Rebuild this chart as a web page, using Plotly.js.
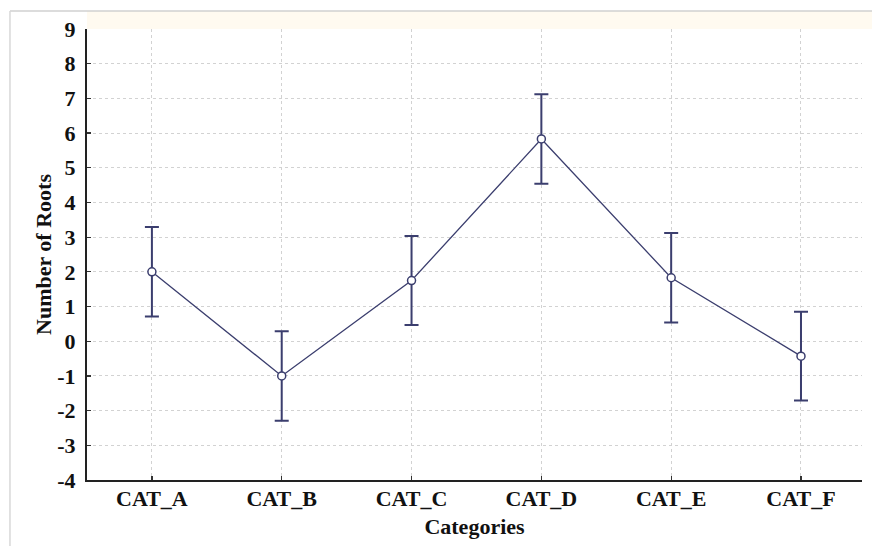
<!DOCTYPE html>
<html><head><meta charset="utf-8">
<script src="https://cdn.plot.ly/plotly-3.0.1.min.js"></script>
<style>html,body{margin:0;padding:0;background:#fff}#chart{width:872px;height:546px}</style>
</head><body><div id="chart"></div>
<script>
const categories = ["CAT_A","CAT_B","CAT_C","CAT_D","CAT_E","CAT_F"];
const means = [2.0, -1.0, 1.75, 5.83, 1.83, -0.43];
const errors = [1.29, 1.29, 1.28, 1.29, 1.29, 1.28];
const yTicks = [-4,-3,-2,-1,0,1,2,3,4,5,6,7,8,9];

const navy = '#3b3e6e';
const trace = {
  x: categories, y: means, type: 'scatter', mode: 'lines+markers',
  line: {color: navy, width: 1.3},
  marker: {symbol: 'circle', size: 8, color: '#ffffff', line: {color: navy, width: 1.5}},
  error_y: {type: 'data', array: errors, visible: true, color: navy, thickness: 2, width: 7},
  showlegend: false, hoverinfo: 'skip'
};
const fontFam = '"Liberation Serif", "Times New Roman", serif';
const layout = {
  width: 872, height: 546,
  margin: {l: 87, r: 10, t: 29, b: 66},
  paper_bgcolor: '#ffffff', plot_bgcolor: '#ffffff',
  font: {family: fontFam, color: '#111111'},
  xaxis: {
    type: 'category', range: [-0.5, 5.47],
    tickfont: {family: fontFam, size: 22, weight: 'bold', color: '#111'},
    showline: true, linecolor: '#222', linewidth: 2, mirror: false,
    ticks: 'inside', ticklen: 4, tickcolor: '#333', tickwidth: 1.2,
    showgrid: true, gridcolor: '#d2d2d2', griddash: 'dot', gridwidth: 1,
    zeroline: false, ticklabelstandoff: -2,
    title: {text: 'Categories', font: {family: fontFam, size: 22, weight: 'bold', color: '#111'}, standoff: 8}
  },
  yaxis: {
    range: [-4, 9], tickvals: yTicks, ticktext: yTicks.map(String),
    tickfont: {family: fontFam, size: 22, weight: 'bold', color: '#111'},
    showline: true, linecolor: '#222', linewidth: 2,
    ticks: 'inside', ticklen: 4, tickcolor: '#333', tickwidth: 1.2,
    showgrid: true, gridcolor: '#d2d2d2', griddash: 'dot', gridwidth: 1,
    zeroline: false, ticklabelstandoff: 5,
    title: {text: 'Number of Roots', font: {family: fontFam, size: 22, weight: 'bold', color: '#111'}, standoff: 0}
  },
  shapes: [
    {type: 'rect', xref: 'paper', yref: 'paper', x0: 0, x1: 1.013, y0: 1.0, y1: 1.04, fillcolor: '#fffaf0', line: {width: 0}, layer: 'below'},
    {type: 'line', xref: 'paper', yref: 'paper', x0: -0.0994, x1: 1.02, y0: 1.04, y1: 1.04, line: {color: '#d0d0d0', width: 1.5}},
    {type: 'line', xref: 'paper', yref: 'paper', x0: -0.0994, x1: -0.0994, y0: -0.2, y1: 1.04, line: {color: '#d8d8d8', width: 1.5}}
  ]
};
Plotly.newPlot('chart', [trace], layout, {displayModeBar: false, staticPlot: true});
</script></body></html>
